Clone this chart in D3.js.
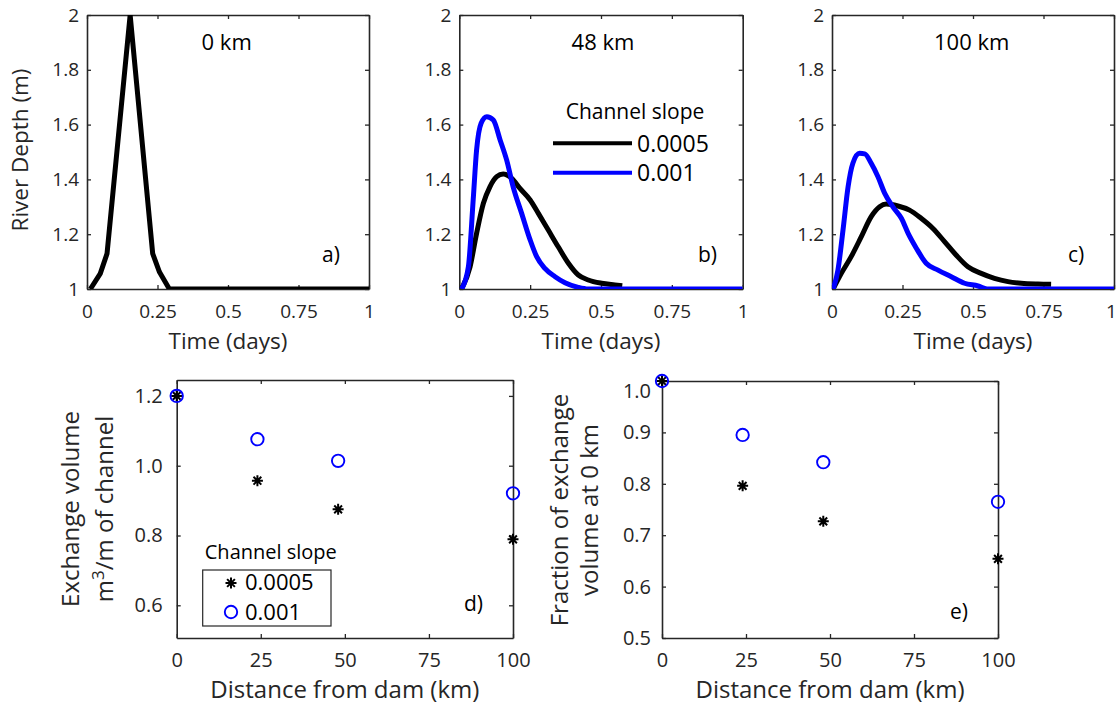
<!DOCTYPE html>
<html><head><meta charset="utf-8">
<script src="https://cdn.jsdelivr.net/npm/d3@7"></script>
<style>
body{margin:0;background:#fff;}
text{font-family:'Open Sans',sans-serif;}
</style></head><body>
<svg id="chart" width="1117" height="706"></svg>
<script>
// ---------- data ----------
const timeTicks = [0, 0.25, 0.5, 0.75, 1];
const depthTicks = [1, 1.2, 1.4, 1.6, 1.8, 2];
const panelTitles = ["0 km", "48 km", "100 km"];
const slopeLabels = ["0.0005", "0.001"];

const timeA = [0.012, 0.047, 0.071, 0.153, 0.233, 0.257, 0.292, 1.0];
const depthA = [1.0, 1.056, 1.129, 2.0, 1.129, 1.062, 1.0, 1.0];

const timeB_0005 = [0.008, 0.038, 0.061, 0.085, 0.108, 0.132, 0.155, 0.185, 0.214, 0.25, 0.279, 0.314, 0.349, 0.385, 0.42, 0.455, 0.502, 0.549, 0.575];
const depthB_0005 = [1.0, 1.081, 1.203, 1.313, 1.373, 1.41, 1.42, 1.404, 1.367, 1.325, 1.276, 1.215, 1.154, 1.094, 1.051, 1.033, 1.021, 1.015, 1.012];
const timeB_001 = [0.008, 0.032, 0.049, 0.061, 0.077, 0.097, 0.12, 0.144, 0.167, 0.19, 0.22, 0.25, 0.273, 0.302, 0.338, 0.373, 0.42, 0.455, 1.0];
const depthB_001 = [1.0, 1.081, 1.325, 1.507, 1.605, 1.629, 1.617, 1.544, 1.471, 1.373, 1.276, 1.179, 1.118, 1.075, 1.045, 1.023, 1.006, 1.0, 1.0];

const timeC_0005 = [0.004, 0.033, 0.068, 0.104, 0.139, 0.169, 0.192, 0.234, 0.275, 0.316, 0.358, 0.399, 0.44, 0.482, 0.529, 0.576, 0.624, 0.671, 0.73, 0.777];
const depthC_0005 = [1.0, 1.057, 1.118, 1.191, 1.264, 1.30, 1.31, 1.303, 1.288, 1.258, 1.221, 1.173, 1.124, 1.081, 1.057, 1.039, 1.027, 1.021, 1.018, 1.017];
const timeC_001 = [0.004, 0.021, 0.039, 0.057, 0.074, 0.098, 0.116, 0.139, 0.163, 0.187, 0.216, 0.246, 0.27, 0.299, 0.334, 0.376, 0.423, 0.47, 0.518, 0.55, 1.0];
const depthC_001 = [1.0, 1.069, 1.215, 1.373, 1.459, 1.495, 1.493, 1.459, 1.41, 1.349, 1.30, 1.258, 1.203, 1.149, 1.094, 1.069, 1.045, 1.021, 1.011, 1.0, 1.0];

const distance = [0, 24, 48, 100];
const distTicks = [0, 25, 50, 75, 100];
const exchange_0005 = [1.2, 0.957, 0.875, 0.789];
const exchange_001 = [1.2, 1.076, 1.014, 0.921];
const exchTicks = [0.6, 0.8, 1.0, 1.2];
const fraction_0005 = [1.0, 0.796, 0.727, 0.654];
const fraction_001 = [1.0, 0.895, 0.842, 0.765];
const fracTicks = [0.5, 0.6, 0.7, 0.8, 0.9, 1.0];

// ---------- drawing ----------
const svg = d3.select('#chart');
const AX = '#262626';
const BLACK = '#000000', BLUE = '#0000ff';
let clipId = 0;

function panel(o) {
  const x = d3.scaleLinear().domain(o.xd).range([o.L, o.R]);
  const y = d3.scaleLinear().domain(o.yd).range([o.B, o.T]);
  const g = svg.append('g');
  const style = (sel, fs) => {
    sel.attr('font-family', "'Open Sans', sans-serif");
    sel.select('.domain').attr('stroke', AX).attr('stroke-width', 1.6);
    sel.selectAll('.tick line').attr('stroke', AX).attr('stroke-width', 1.3);
    sel.selectAll('.tick text').attr('fill', AX).attr('font-size', fs);
  };
  const xl = g.append('g').attr('transform', `translate(0,${o.B})`)
    .call(d3.axisBottom(x).tickValues(o.xt).tickFormat(o.xf).tickSize(-4).tickSizeOuter(0).tickPadding(o.xpad))
    .call(s => style(s, o.fs));
  g.append('g').attr('transform', `translate(0,${o.T})`)
    .call(d3.axisTop(x).tickValues(o.xt).tickFormat(() => '').tickSize(-4).tickSizeOuter(0))
    .call(s => style(s, o.fs));
  const yl = g.append('g').attr('transform', `translate(${o.L},0)`)
    .call(d3.axisLeft(y).tickValues(o.yt).tickFormat(o.yf).tickSize(-4).tickSizeOuter(0).tickPadding(o.ypad))
    .call(s => style(s, o.fs));
  g.append('g').attr('transform', `translate(${o.R},0)`)
    .call(d3.axisRight(y).tickValues(o.yt).tickFormat(() => '').tickSize(-4).tickSizeOuter(0))
    .call(s => style(s, o.fs));
  const id = 'clip' + (clipId++);
  svg.append('clipPath').attr('id', id).append('rect')
    .attr('x', o.L).attr('y', o.T).attr('width', o.R - o.L).attr('height', o.B - o.T);
  const plot = svg.append('g').attr('clip-path', `url(#${id})`);
  return {x, y, g, plot, yl, xl};
}

const fmtTime = d => d3.format('')(d);
const fmtDepth = d => d3.format('')(+d.toFixed(1));

function line(p, xs, ys, color, smooth) {
  const gen = d3.line().x(d => p.x(d[0])).y(d => p.y(d[1]))
    .curve(smooth ? d3.curveMonotoneX : d3.curveLinear);
  p.plot.append('path').datum(d3.zip(xs, ys)).attr('d', gen)
    .attr('fill', 'none').attr('stroke', color).attr('stroke-width', 5)
    .attr('stroke-linejoin', 'round').attr('stroke-linecap', 'butt');
}

const topRow = [
  {L: 87, R: 369, title: 226.7, lab: 'a)', labX: 322},
  {L: 459.3, R: 742.7, title: 603, lab: 'b)', labX: 698},
  {L: 832, R: 1114, title: 971.7, lab: 'c)', labX: 1068}
];
const series = [
  [[timeA, depthA, BLACK]],
  [[timeB_0005, depthB_0005, BLACK], [timeB_001, depthB_001, BLUE]],
  [[timeC_0005, depthC_0005, BLACK], [timeC_001, depthC_001, BLUE]]
];

topRow.forEach((c, i) => {
  const p = panel({L: c.L, R: c.R, T: 15, B: 289, xd: [0, 1], yd: [1, 2], xt: timeTicks, yt: depthTicks,
    xf: fmtTime, yf: fmtDepth, fs: 19, xpad: 15.5, ypad: 8});
  if (i === 2) p.xl.selectAll('.tick').filter(d => d === 1).select('text').attr('x', -3);
  series[i].forEach(s => line(p, s[0], s[1], s[2], i > 0));
  svg.append('text').attr('x', c.title).attr('y', 50).attr('text-anchor', 'middle')
    .attr('font-size', 22).attr('fill', BLACK).text(panelTitles[i]);
  svg.append('text').attr('x', c.labX).attr('y', 262).attr('font-size', 21).attr('fill', BLACK).text(c.lab);
  svg.append('text').attr('x', (c.L + c.R) / 2).attr('y', 349).attr('text-anchor', 'middle')
    .attr('font-size', 22.5).attr('fill', AX).text('Time (days)');
});
svg.append('text').attr('transform', 'translate(28,150) rotate(-90)').attr('text-anchor', 'middle')
  .attr('font-size', 22.5).attr('fill', AX).text('River Depth (m)');

// legend (panel b)
svg.append('text').attr('x', 635).attr('y', 119).attr('text-anchor', 'middle')
  .attr('font-size', 21).attr('fill', BLACK).text('Channel slope');
[[143.3, BLACK], [172.7, BLUE]].forEach((d, i) => {
  svg.append('line').attr('x1', 553).attr('x2', 632).attr('y1', d[0]).attr('y2', d[0])
    .attr('stroke', d[1]).attr('stroke-width', 4);
  svg.append('text').attr('x', 637).attr('y', d[0] + 8.5).attr('font-size', 23)
    .attr('fill', BLACK).text(slopeLabels[i]);
});

// markers
function star(sel, r) {
  const a = r * 0.7071;
  sel.append('path').attr('d', `M${-r},0L${r},0M0,${-r}L0,${r}M${-a},${-a}L${a},${a}M${-a},${a}L${a},${-a}`)
    .attr('stroke', BLACK).attr('stroke-width', 2).attr('fill', 'none');
}
function scatter(p, xs, ys, kind) {
  d3.zip(xs, ys).forEach(d => {
    const g = svg.append('g').attr('transform', `translate(${p.x(d[0])},${p.y(d[1])})`);
    if (kind === 'star') star(g, 5.5);
    else g.append('circle').attr('r', 6.2).attr('fill', 'none').attr('stroke', BLUE).attr('stroke-width', 1.9);
  });
}

const fmt1 = d3.format('.1f');
// panel d
const pd = panel({L: 176.7, R: 513, T: 380, B: 638, xd: [0, 100], yd: [0.5063, 1.2456], xt: distTicks, yt: exchTicks,
  xf: d3.format('d'), yf: fmt1, fs: 20, xpad: 14.8, ypad: 14});
scatter(pd, distance, exchange_0005, 'star');
scatter(pd, distance, exchange_001, 'circle');
svg.append('text').attr('x', 464).attr('y', 611).attr('font-size', 21).attr('fill', BLACK).text('d)');
svg.append('text').attr('x', (176.7 + 513) / 2).attr('y', 698).attr('text-anchor', 'middle')
  .attr('font-size', 24).attr('fill', AX).text('Distance from dam (km)');
svg.append('text').attr('transform', 'translate(79,509) rotate(-90)').attr('text-anchor', 'middle')
  .attr('font-size', 24).attr('fill', AX).text('Exchange volume');
const yl2 = svg.append('text').attr('transform', 'translate(113,509) rotate(-90)').attr('text-anchor', 'middle')
  .attr('font-size', 24).attr('fill', AX);
yl2.append('tspan').text('m');
yl2.append('tspan').attr('dy', -9).attr('font-size', 17).text('3');
yl2.append('tspan').attr('dy', 9).text('/m of channel');
// legend d
svg.append('text').attr('x', 270.8).attr('y', 559).attr('text-anchor', 'middle')
  .attr('font-size', 20).attr('fill', BLACK).text('Channel slope');
svg.append('rect').attr('x', 202.7).attr('y', 570).attr('width', 128.3).attr('height', 56)
  .attr('fill', '#fff').attr('stroke', AX).attr('stroke-width', 1.2);
const lg1 = svg.append('g').attr('transform', 'translate(231,583)'); star(lg1, 5.5);
svg.append('g').attr('transform', 'translate(231,612)').append('circle').attr('r', 6.2)
  .attr('fill', 'none').attr('stroke', BLUE).attr('stroke-width', 1.9);
svg.append('text').attr('x', 245).attr('y', 590).attr('font-size', 22).attr('fill', BLACK).text(slopeLabels[0]);
svg.append('text').attr('x', 245).attr('y', 620).attr('font-size', 22).attr('fill', BLACK).text(slopeLabels[1]);

// panel e
const pe = panel({L: 662, R: 998, T: 381, B: 638, xd: [0, 100], yd: [0.5, 1.0], xt: distTicks, yt: fracTicks,
  xf: d3.format('d'), yf: fmt1, fs: 20, xpad: 14.8, ypad: 11});
pe.yl.selectAll('.tick').filter(d => d === 1.0).select('text').attr('y', 10);
scatter(pe, distance, fraction_0005, 'star');
scatter(pe, distance, fraction_001, 'circle');
svg.append('text').attr('x', 950).attr('y', 619).attr('font-size', 21).attr('fill', BLACK).text('e)');
svg.append('text').attr('x', (662 + 998) / 2).attr('y', 698).attr('text-anchor', 'middle')
  .attr('font-size', 24).attr('fill', AX).text('Distance from dam (km)');
svg.append('text').attr('transform', 'translate(568,510) rotate(-90)').attr('text-anchor', 'middle')
  .attr('font-size', 24).attr('fill', AX).text('Fraction of exchange');
svg.append('text').attr('transform', 'translate(598,510) rotate(-90)').attr('text-anchor', 'middle')
  .attr('font-size', 24).attr('fill', AX).text('volume at 0 km');
</script>
</body></html>
